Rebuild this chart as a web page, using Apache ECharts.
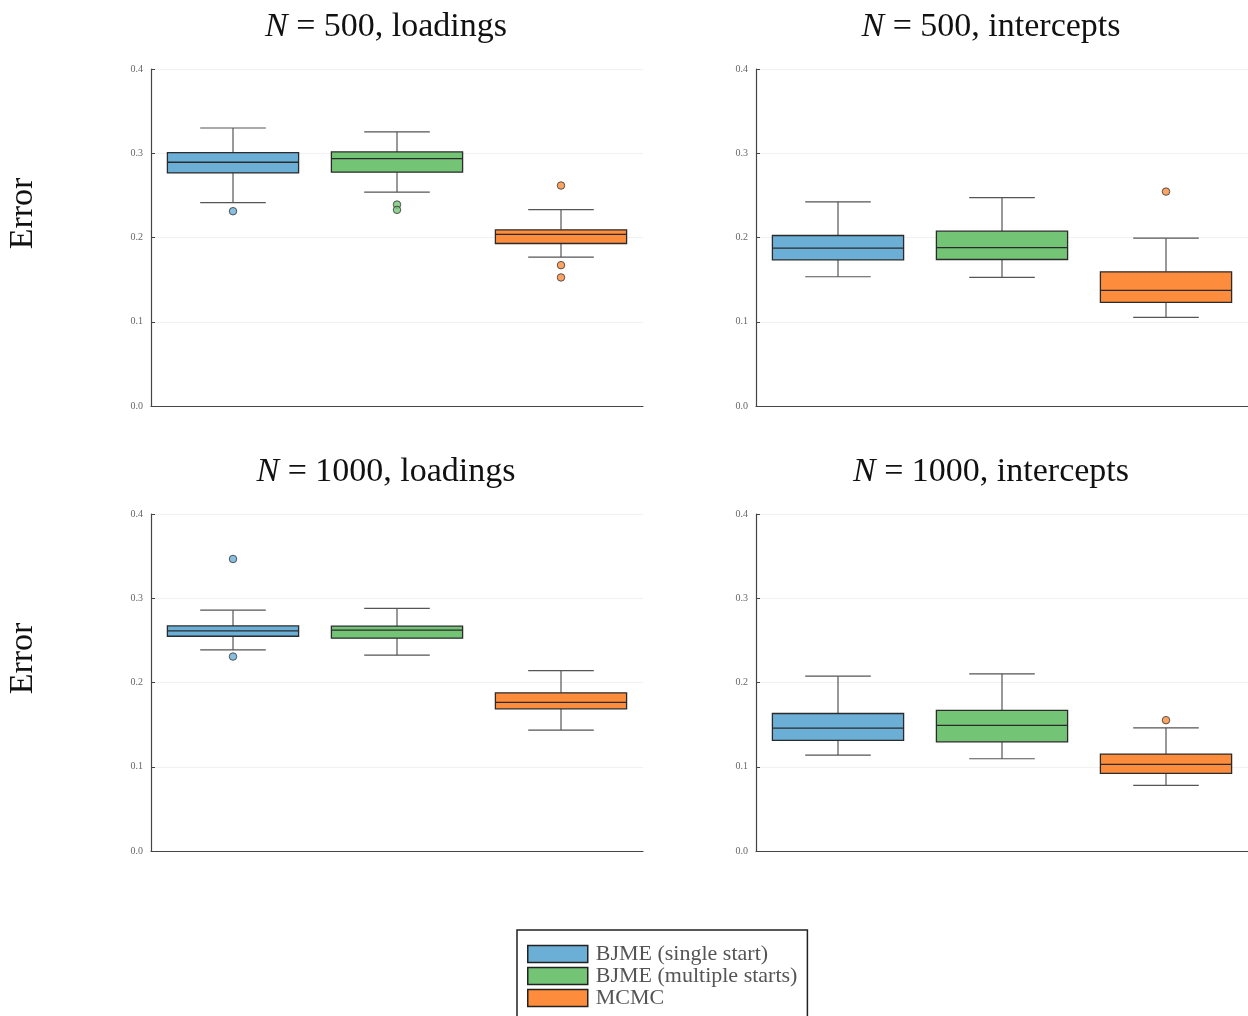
<!DOCTYPE html>
<html>
<head>
<meta charset="utf-8">
<script src="https://cdn.jsdelivr.net/npm/echarts@6/dist/echarts.min.js"></script>
<style>
html,body{margin:0;padding:0;background:#fff;}
#chart{width:1248px;height:1016px;}
</style>
</head>
<body>
<div id="chart"></div>
<script>
// ---- data ----
const methods = ['BJME (single start)', 'BJME (multiple starts)', 'MCMC'];
const methodColors = ['#6baed6', '#74c476', '#fd8d3c'];
const panelTitles = [
  ['500', 'loadings'], ['500', 'intercepts'],
  ['1000', 'loadings'], ['1000', 'intercepts']
];
const yTicks = [0.0, 0.1, 0.2, 0.3, 0.4];

// [lower whisker, Q1, median, Q3, upper whisker] per method
const n500Loadings = [
  [0.2415, 0.2767, 0.2893, 0.3008, 0.3300],
  [0.2538, 0.2775, 0.2937, 0.3016, 0.3253],
  [0.1767, 0.1929, 0.2036, 0.2091, 0.2332]
];
const n500LoadingsOutliers = [[0.2312], [0.2391, 0.2328], [0.2617, 0.1672, 0.1526]];

const n500Intercepts = [
  [0.1534, 0.1735, 0.1874, 0.2024, 0.2423],
  [0.1526, 0.1739, 0.1881, 0.2075, 0.2474],
  [0.1051, 0.1229, 0.1372, 0.1593, 0.1992]
];
const n500InterceptsOutliers = [[], [], [0.2545]];

const n1000Loadings = [
  [0.2387, 0.2549, 0.2613, 0.2672, 0.2858],
  [0.2324, 0.2526, 0.2621, 0.2668, 0.2881],
  [0.1435, 0.1688, 0.1763, 0.1877, 0.2142]
];
const n1000LoadingsOutliers = [[0.3466, 0.2308], [], []];

const n1000Intercepts = [
  [0.1138, 0.1312, 0.1458, 0.1632, 0.2075],
  [0.1095, 0.1296, 0.1490, 0.1668, 0.2103],
  [0.0779, 0.0921, 0.1028, 0.1150, 0.1462]
];
const n1000InterceptsOutliers = [[], [], [0.1553]];

const panelStats = [n500Loadings, n500Intercepts, n1000Loadings, n1000Intercepts];
const panelOutliers = [n500LoadingsOutliers, n500InterceptsOutliers, n1000LoadingsOutliers, n1000InterceptsOutliers];

// ---- layout ----
const SERIF = "'Liberation Serif', 'DejaVu Serif', serif";
const grids = [
  {left: 151, top: 69, width: 492, height: 337},
  {left: 756, top: 69, width: 492, height: 337},
  {left: 151, top: 514, width: 492, height: 337},
  {left: 756, top: 514, width: 492, height: 337}
];

function renderBox(params, api) {
  const x = api.value(0);
  const pMin = api.coord([x, api.value(1)]);
  const pQ1 = api.coord([x, api.value(2)]);
  const pMed = api.coord([x, api.value(3)]);
  const pQ3 = api.coord([x, api.value(4)]);
  const pMax = api.coord([x, api.value(5)]);
  const band = api.size([1, 0])[0];
  const bw = band * 0.8, cw = band * 0.4;
  const cx = pMed[0];
  const color = api.visual('color');
  const wStyle = {stroke: '#555', lineWidth: 1.2};
  const bStyle = {stroke: '#2b2b2b', lineWidth: 1.3};
  return {
    type: 'group',
    children: [
      {type: 'line', shape: {x1: cx, y1: pMax[1], x2: cx, y2: pQ3[1]}, style: wStyle},
      {type: 'line', shape: {x1: cx, y1: pQ1[1], x2: cx, y2: pMin[1]}, style: wStyle},
      {type: 'line', shape: {x1: cx - cw / 2, y1: pMax[1], x2: cx + cw / 2, y2: pMax[1]}, style: wStyle},
      {type: 'line', shape: {x1: cx - cw / 2, y1: pMin[1], x2: cx + cw / 2, y2: pMin[1]}, style: wStyle},
      {type: 'rect', shape: {x: cx - bw / 2, y: pQ3[1], width: bw, height: pQ1[1] - pQ3[1]},
        style: {fill: color, stroke: '#2b2b2b', lineWidth: 1.3}},
      {type: 'line', shape: {x1: cx - bw / 2, y1: pMed[1], x2: cx + bw / 2, y2: pMed[1]}, style: bStyle}
    ]
  };
}

const titles = [], xAxes = [], yAxes = [], series = [];
panelTitles.forEach((t, p) => {
  const g = grids[p];
  titles.push({
    text: '{i|N} = ' + t[0] + ', ' + t[1],
    left: g.left + g.width / 2 - 16,
    top: g.top - 64,
    textAlign: 'center',
    textStyle: {
      fontFamily: SERIF, fontSize: 34, fontWeight: 'normal', color: '#111',
      rich: {i: {fontFamily: SERIF, fontSize: 34, fontStyle: 'italic', color: '#111'}}
    }
  });
  xAxes.push({
    type: 'category', gridIndex: p, data: methods, boundaryGap: true,
    axisLabel: {show: false}, axisTick: {show: false},
    axisLine: {lineStyle: {color: '#444', width: 1.2}},
    splitLine: {show: false}
  });
  yAxes.push({
    type: 'value', gridIndex: p, min: 0, max: 0.4, interval: 0.1,
    name: (p % 2 === 0) ? 'Error' : '',
    nameLocation: 'middle', nameGap: 111, nameRotate: 90,
    nameTextStyle: {fontFamily: SERIF, fontSize: 34, color: '#111', padding: [0, 0, 0, 48]},
    axisLine: {show: true, lineStyle: {color: '#444', width: 1.2}},
    axisTick: {show: true, inside: true, length: 4, lineStyle: {color: '#444'}},
    axisLabel: {fontFamily: SERIF, fontSize: 10, color: '#666', margin: 8,
      formatter: v => v.toFixed(1)},
    splitLine: {show: true, lineStyle: {color: '#f1f1f1', width: 1}}
  });
  methods.forEach((m, k) => {
    series.push({
      type: 'custom', name: m, xAxisIndex: p, yAxisIndex: p,
      color: methodColors[k],
      renderItem: renderBox,
      encode: {x: 0, y: [1, 2, 3, 4, 5]},
      data: [[k].concat(panelStats[p][k])],
      z: 2
    });
    series.push({
      type: 'scatter', name: m, xAxisIndex: p, yAxisIndex: p,
      color: methodColors[k],
      symbol: 'circle', symbolSize: 7.5,
      itemStyle: {color: methodColors[k], borderColor: '#333', borderWidth: 1},
      data: panelOutliers[p][k].map(v => [k, v]),
      z: 3
    });
  });
});

const chart = echarts.init(document.getElementById('chart'), null, {renderer: 'canvas'});
chart.setOption({
  backgroundColor: '#fff',
  animation: false,
  title: titles,
  grid: grids,
  xAxis: xAxes,
  yAxis: yAxes,
  legend: {
    data: methods.map(m => ({name: m, icon: 'rect'})),
    orient: 'vertical',
    left: 517, top: 930, height: 200,
    padding: [13, 10, 22, 10],
    itemWidth: 60, itemHeight: 17, itemGap: 0,
    borderColor: '#222', borderWidth: 1.5, backgroundColor: '#fff',
    itemStyle: {borderColor: '#222', borderWidth: 1.5},
    textStyle: {fontFamily: SERIF, fontSize: 22, lineHeight: 17, color: '#555', padding: [0, 0, 0, 3]},
    selectedMode: false
  },
  series: series
});
</script>
</body>
</html>
